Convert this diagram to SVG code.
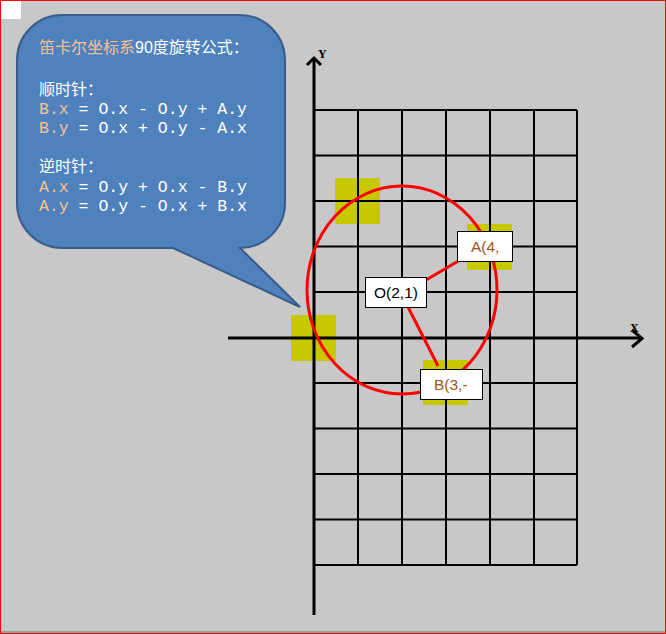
<svg xmlns="http://www.w3.org/2000/svg" width="666" height="634" viewBox="0 0 666 634">
<style>
.grid{stroke:#000;stroke-width:2;fill:none}
.axis{stroke:#000;stroke-width:3;fill:none}
.hl{fill:#C8C800}
.box{fill:#fff;stroke:#000;stroke-width:1}
.lbl{font-family:"Liberation Sans",Arial,sans-serif;font-size:15.5px}
.brown{fill:#9C5319}
.conn{stroke:#FF0000;stroke-width:3;fill:none}
.zh{font-family:"Liberation Sans","Noto Sans CJK SC",sans-serif;font-size:16px;fill:#fff}
.mono{font-family:"Liberation Mono","Courier New",monospace;font-size:16.5px;fill:#fff}
.or{fill:#FAC090}
.ax{font-family:"Liberation Serif",serif;font-size:12px;font-weight:bold;fill:#000}
</style>
<rect x="0" y="0" width="666" height="634" fill="#C8C8C8"/>
<rect x="0.5" y="0.5" width="665" height="633" fill="none" stroke="#FF0000" stroke-width="1"/>
<line x1="1" y1="632" x2="665" y2="632" stroke="#3C8C64" stroke-width="1"/>
<rect x="1" y="1" width="20" height="18" fill="#fff"/>

<g id="highlights">
<rect class="hl" x="335" y="178" width="45" height="46"/>
<rect class="hl" x="291" y="315" width="45" height="46"/>
<rect class="hl" x="467" y="224" width="45" height="46"/>
<rect class="hl" x="423" y="360" width="45" height="45"/>
</g>

<g id="grid" class="grid">
<path d="M314 110H577M314 155.5H577M314 201H577M314 246.5H577M314 292H577M314 383H577M314 428.5H577M314 474H577M314 519.5H577M314 565H577"/>
<path d="M358 110V565M402 110V565M446 110V565M490 110V565M534 110V565M577 110V565"/>
</g>

<g id="axes">
<line class="axis" x1="314" y1="615" x2="314" y2="59"/>
<polyline class="axis" points="307,65 314,58 321,65"/>
<line class="axis" x1="228" y1="338" x2="642" y2="338"/>
<polyline class="axis" points="632,330 642,338.5 632,347"/>
<text class="ax" x="318" y="58">Y</text>
<text class="ax" x="630" y="332">X</text>
</g>

<ellipse cx="402" cy="290" rx="95" ry="104" fill="none" stroke="#FF0000" stroke-width="3"/>

<g id="connectors">
<line class="conn" x1="426" y1="280" x2="460" y2="260"/>
<line class="conn" x1="408" y1="307" x2="438" y2="366"/>
</g>

<g id="nodeO">
<rect class="box" x="365.5" y="277.5" width="61" height="30"/>
<text class="lbl" x="396" y="298" text-anchor="middle" fill="#000">O(2,1)</text>
</g>
<g id="nodeA">
<rect class="box" x="457.5" y="231.5" width="55" height="30"/>
<text class="lbl brown" x="471" y="252">A(4,</text>
</g>
<g id="nodeB">
<rect class="box" x="420.5" y="369.5" width="62" height="30"/>
<text class="lbl brown" x="434" y="390">B(3,-</text>
</g>

<g id="bubble">
<path d="M62 15H240A45 45 0 0 1 285 60V203A45 45 0 0 1 240 248L300 307L173 248H62A45 45 0 0 1 17 203V60A45 45 0 0 1 62 15Z" fill="#4F81BD" stroke="#385D8A" stroke-width="2"/>
<text class="zh" x="39" y="53"><tspan class="or">笛卡尔坐标系</tspan>90度旋转公式：</text>
<text class="zh" x="39" y="95">顺时针：</text>
<text class="mono" x="39" y="114"><tspan class="or">B.x</tspan> = O.x - O.y + A.y</text>
<text class="mono" x="39" y="133"><tspan class="or">B.y</tspan> = O.x + O.y - A.x</text>
<text class="zh" x="39" y="172">逆时针：</text>
<text class="mono" x="39" y="192"><tspan class="or">A.x</tspan> = O.y + O.x - B.y</text>
<text class="mono" x="39" y="211"><tspan class="or">A.y</tspan> = O.y - O.x + B.x</text>
</g>
</svg>
